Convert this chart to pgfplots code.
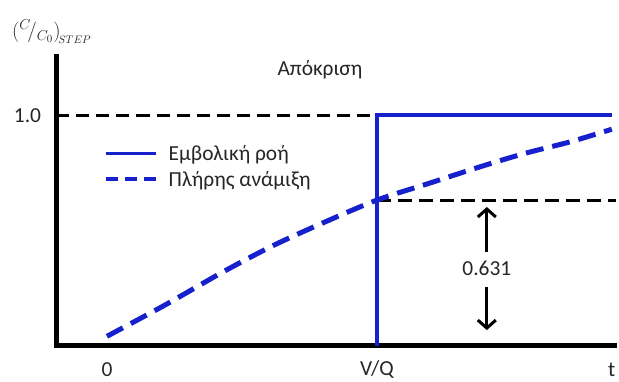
\documentclass[border=0pt]{standalone}
\usepackage{pgfplots}
\pgfplotsset{compat=1.18}
\usepackage{fontspec}
\setmainfont{Carlito}
\usetikzlibrary{arrows.meta}

\definecolor{flowblue}{RGB}{22,32,204}
\newcommand{\lblfont}{\fontsize{21.5}{25}\selectfont}

\begin{document}
\begin{tikzpicture}
\useasboundingbox (-56.5bp,-36.5bp) rectangle (562.5bp,345.5bp);
\begin{axis}[
  scale only axis,
  width=558bp, height=288.5bp,
  xmin=-0.187, xmax=1.88,
  ymin=0, ymax=1.254,
  axis x line=bottom, axis y line=left,
  axis line style={line width=5bp, -, line cap=rect},
  clip=false,
  xtick={0,1,1.87}, xticklabels={0,V/Q,t},
  ytick={1}, yticklabels={1.0},
  major tick length=0pt,
  tick style={draw=none},
  /pgf/number format/assume math mode=true,
  every tick label/.append style={font=\lblfont, text=black!85},
  xticklabel style={anchor=center, yshift=-24bp},
  yticklabel style={anchor=center, xshift=-29bp},
  legend cell align=left,
  legend style={
    at={(axis cs:-0.013,0.875)}, anchor=north west,
    draw=none, fill=none, inner sep=0pt,
    font=\lblfont, text=black!85,
    row sep=7bp, column sep=10bp,
    nodes={inner sep=1bp},
  },
]

% reference level C/C0 = 1
\addplot[forget plot, black, line width=3bp, dash pattern=on 13bp off 7bp]
  coordinates {(-0.187,1) (1,1)};

% level reached by the mixed reactor at t = V/Q
\addplot[forget plot, black, line width=3bp, dash pattern=on 14bp off 7bp]
  coordinates {(1,0.632) (1.885,0.632)};

% plug flow: step at t = V/Q
\addplot[flowblue, line width=4bp,
  legend image code/.code={
    \draw[flowblue,line width=3bp] (0bp,0bp) -- (50bp,0bp);}]
  coordinates {(1,0) (1,1) (1.87,1)};
\addlegendentry{Εμβολική ροή}

% complete mixing response
\addplot[flowblue, line width=5bp, smooth, dash pattern=on 18bp off 9bp,
  legend image code/.code={
    \draw[flowblue,line width=4bp,dash pattern=on 12bp off 7bp] (0bp,0bp) -- (50bp,0bp);}]
  coordinates {
    (0,0.04) (0.215,0.176) (0.43,0.32) (0.615,0.434) (0.80,0.533)
    (1.0,0.632) (1.196,0.706) (1.38,0.776) (1.548,0.835) (1.715,0.885) (1.87,0.94)
  };
\addlegendentry{Πλήρης ανάμιξη}

% double arrow marking 0.631
\addplot[forget plot, black, line width=3bp, -{Straight Barb[length=8bp,width=18bp]}]
  coordinates {(1.407,0.407) (1.407,0.602)};
\addplot[forget plot, black, line width=3bp, -{Straight Barb[length=8bp,width=18bp]}]
  coordinates {(1.407,0.254) (1.407,0.067)};

\node[font=\lblfont, text=black!85] at (axis cs:1.407,0.337) {0.631};
\node[font=\lblfont, text=black!85] at (axis cs:0.789,1.198) {Απόκριση};
\node[font=\fontsize{22}{26}\selectfont, text=black!85] at (axis cs:-0.205,1.365)
  {$\Bigl({}^{C}\!/{}_{C_0}\Bigr)_{\!\scriptscriptstyle STEP}$};
\end{axis}
\end{tikzpicture}
\end{document}
